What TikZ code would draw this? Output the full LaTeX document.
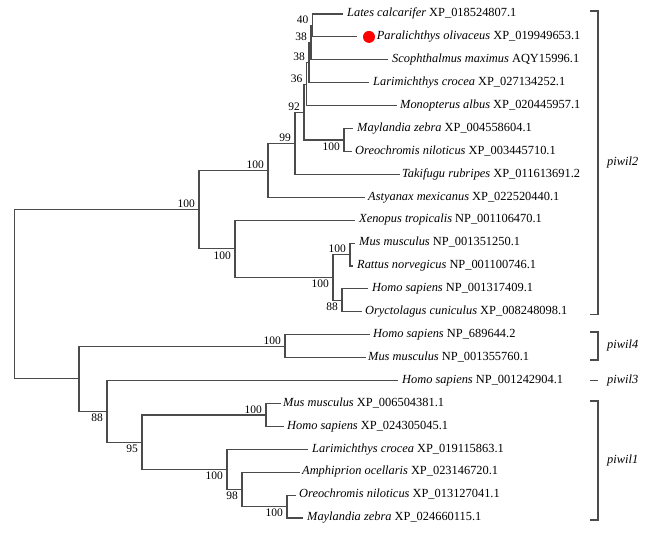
\documentclass[tikz,border=0pt]{standalone}
\usepackage{fontspec}
\setmainfont{Liberation Serif}
\usetikzlibrary{positioning}
\definecolor{branchgray}{RGB}{75,75,75}

\tikzset{
  br/.style={draw=branchgray, line width=1.1pt},
  leaf/.style={inner sep=0pt, text height=8pt, text depth=2.5pt, font=\fontsize{12.4}{14}\selectfont},
  bsup/.style={anchor=south east, inner sep=0pt, xshift=-4pt, yshift=1.5pt, font=\fontsize{11.5}{13}\selectfont},
  bsdown/.style={anchor=north east, inner sep=0pt, xshift=-4pt, yshift=-2.5pt, font=\fontsize{11.5}{13}\selectfont},
  grp/.style={anchor=west, inner sep=0pt, font=\fontsize{12.4}{14}\selectfont\itshape},
}

\begin{document}
\begin{tikzpicture}[x=1pt,y=-1pt]

  \useasboundingbox (0,0) rectangle (651,533);

  % tips
  \coordinate (t1) at (343,14);
  \coordinate (t2) at (357,36.9);
  \coordinate (t3) at (388,59.8);
  \coordinate (t4) at (369,82.7);
  \coordinate (t5) at (397,105.6);
  \coordinate (t6) at (353,128.6);
  \coordinate (t7) at (352,151.5);
  \coordinate (t8) at (400,174.4);
  \coordinate (t9) at (365,197.3);
  \coordinate (t10) at (355,220.2);
  \coordinate (t11) at (355,243.1);
  \coordinate (t12) at (353,266.0);
  \coordinate (t13) at (368,288.9);
  \coordinate (t14) at (362,311.8);
  \coordinate (t15) at (370,334.7);
  \coordinate (t16) at (366,357.7);
  \coordinate (t17) at (398,380.6);
  \coordinate (t18) at (281,403.5);
  \coordinate (t19) at (284,426.4);
  \coordinate (t20) at (308,449.3);
  \coordinate (t21) at (300,472.2);
  \coordinate (t22) at (296,495.1);
  \coordinate (t23) at (303,518.0);

  % inner nodes
  \coordinate (root) at (14.5,294.2);
  \coordinate (p2) at (199,209.5);
  \coordinate (b) at (268,170.3);
  \coordinate (c) at (295,143.2);
  \coordinate (d) at (304,112.1);
  \coordinate (e) at (306.5,84.1);
  \coordinate (f) at (309,62.7);
  \coordinate (g) at (311,42.6);
  \coordinate (h) at (312.5,25.45);
  \coordinate (mo) at (344,140.0);
  \coordinate (m) at (235,248.8);
  \coordinate (n) at (333,277.4);
  \coordinate (mr) at (350,254.5);
  \coordinate (ho) at (342,300.3);
  \coordinate (r) at (79,378.8);
  \coordinate (p4) at (285,346.2);
  \coordinate (n88) at (107,411.4);
  \coordinate (n95) at (142,442.2);
  \coordinate (na) at (266,415.0);
  \coordinate (nb) at (227,469.3);
  \coordinate (n98) at (242,489.4);
  \coordinate (nc) at (287,506.5);

  % branches
  \draw[br] (root) |- (p2);
  \draw[br] (root) |- (r);
  \draw[br] (p2) |- (b);
  \draw[br] (p2) |- (m);
  \draw[br] (b) |- (c);
  \draw[br] (b) |- (t9);
  \draw[br] (c) |- (d);
  \draw[br] (c) |- (t8);
  \draw[br] (d) |- (e);
  \draw[br] (d) |- (mo);
  \draw[br] (e) |- (f);
  \draw[br] (e) |- (t5);
  \draw[br] (f) |- (g);
  \draw[br] (f) |- (t4);
  \draw[br] (g) |- (h);
  \draw[br] (g) |- (t3);
  \draw[br] (h) |- (t1);
  \draw[br] (h) |- (t2);
  \draw[br] (mo) |- (t6);
  \draw[br] (mo) |- (t7);
  \draw[br] (m) |- (t10);
  \draw[br] (m) |- (n);
  \draw[br] (n) |- (mr);
  \draw[br] (n) |- (ho);
  \draw[br] (mr) |- (t11);
  \draw[br] (mr) |- (t12);
  \draw[br] (ho) |- (t13);
  \draw[br] (ho) |- (t14);
  \draw[br] (r) |- (p4);
  \draw[br] (r) |- (n88);
  \draw[br] (p4) |- (t15);
  \draw[br] (p4) |- (t16);
  \draw[br] (n88) |- (t17);
  \draw[br] (n88) |- (n95);
  \draw[br] (n95) |- (na);
  \draw[br] (n95) |- (nb);
  \draw[br] (na) |- (t18);
  \draw[br] (na) |- (t19);
  \draw[br] (nb) |- (t20);
  \draw[br] (nb) |- (n98);
  \draw[br] (n98) |- (t21);
  \draw[br] (n98) |- (nc);
  \draw[br] (nc) |- (t22);
  \draw[br] (nc) |- (t23);

  % bootstrap values
  \node[bsup] (v_p2) at (p2) {100};
  \node[bsup] (v_b) at (b) {100};
  \node[bsup] (v_c) at (c) {99};
  \node[bsup] (v_d) at (d) {92};
  \node[bsup] (v_e) at (e) {36};
  \node[bsup] (v_f) at (f) {38};
  \node[bsup] (v_g) at (g) {38};
  \node[bsup] (v_h) at (h) {40};
  \node[bsdown] (v_mo) at (mo) {100};
  \node[bsdown] (v_m) at (m) {100};
  \node[bsdown] (v_n) at (n) {100};
  \node[bsup] (v_mr) at (mr) {100};
  \node[bsdown] (v_ho) at (ho) {88};
  \node[bsup] (v_p4) at (p4) {100};
  \node[bsdown] (v_n88) at (n88) {88};
  \node[bsdown] (v_n95) at (n95) {95};
  \node[bsup] (v_na) at (na) {100};
  \node[bsdown] (v_nb) at (nb) {100};
  \node[bsdown] (v_n98) at (n98) {98};
  \node[bsdown] (v_nc) at (nc) {100};

  % leaf labels
  \node[leaf, right=4pt of t1] (l1) {\textit{Lates calcarifer} XP\_018524807.1};
  \node[circle, fill=red, inner sep=0pt, minimum size=12pt] (dot) at (369,36.9) {};
  \node[leaf, right=1.5pt of dot] (l2) {\textit{Paralichthys olivaceus} XP\_019949653.1};
  \node[leaf, right=4pt of t3] (l3) {\textit{Scophthalmus maximus} AQY15996.1};
  \node[leaf, right=4pt of t4] (l4) {\textit{Larimichthys crocea} XP\_027134252.1};
  \node[leaf, right=3pt of t5] (l5) {\textit{Monopterus albus} XP\_020445957.1};
  \node[leaf, right=4pt of t6] (l6) {\textit{Maylandia zebra} XP\_004558604.1};
  \node[leaf, right=3pt of t7] (l7) {\textit{Oreochromis niloticus} XP\_003445710.1};
  \node[leaf, right=2pt of t8] (l8) {\textit{Takifugu rubripes} XP\_011613691.2};
  \node[leaf, right=3pt of t9] (l9) {\textit{Astyanax mexicanus} XP\_022520440.1};
  \node[leaf, right=4pt of t10] (l10) {\textit{Xenopus tropicalis} NP\_001106470.1};
  \node[leaf, right=4pt of t11] (l11) {\textit{Mus musculus} NP\_001351250.1};
  \node[leaf, right=4pt of t12] (l12) {\textit{Rattus norvegicus} NP\_001100746.1};
  \node[leaf, right=4pt of t13] (l13) {\textit{Homo sapiens} NP\_001317409.1};
  \node[leaf, right=3pt of t14] (l14) {\textit{Oryctolagus cuniculus} XP\_008248098.1};
  \node[leaf, right=3pt of t15] (l15) {\textit{Homo sapiens} NP\_689644.2};
  \node[leaf, right=2pt of t16] (l16) {\textit{Mus musculus} NP\_001355760.1};
  \node[leaf, right=4pt of t17] (l17) {\textit{Homo sapiens} NP\_001242904.1};
  \node[leaf, right=2pt of t18] (l18) {\textit{Mus musculus} XP\_006504381.1};
  \node[leaf, right=3pt of t19] (l19) {\textit{Homo sapiens} XP\_024305045.1};
  \node[leaf, right=4pt of t20] (l20) {\textit{Larimichthys crocea} XP\_019115863.1};
  \node[leaf, right=2pt of t21] (l21) {\textit{Amphiprion ocellaris} XP\_023146720.1};
  \node[leaf, right=3pt of t22] (l22) {\textit{Oreochromis niloticus} XP\_013127041.1};
  \node[leaf, right=4pt of t23] (l23) {\textit{Maylandia zebra} XP\_024660115.1};

  % groups
  \coordinate (g2top) at (590,11);
  \coordinate (g2bot) at (590,314.5);
  \coordinate (g4top) at (590,332);
  \coordinate (g4bot) at (590,360);
  \coordinate (g3) at (590,380.6);
  \coordinate (g1top) at (590,401);
  \coordinate (g1bot) at (590,520);
  \draw[br] (g2top) -- ++(8,0) |- (g2bot);
  \draw[br] (g4top) -- ++(8,0) |- (g4bot);
  \draw[br] (g3) -- ++(8,0);
  \draw[br] (g1top) -- ++(8,0) |- (g1bot);
  \node[grp] (piwil2) at (607,162.7) {piwil2};
  \node[grp] (piwil4) at (607,346) {piwil4};
  \node[grp] (piwil3) at (607,380.6) {piwil3};
  \node[grp] (piwil1) at (607,460.5) {piwil1};

\end{tikzpicture}
\end{document}
